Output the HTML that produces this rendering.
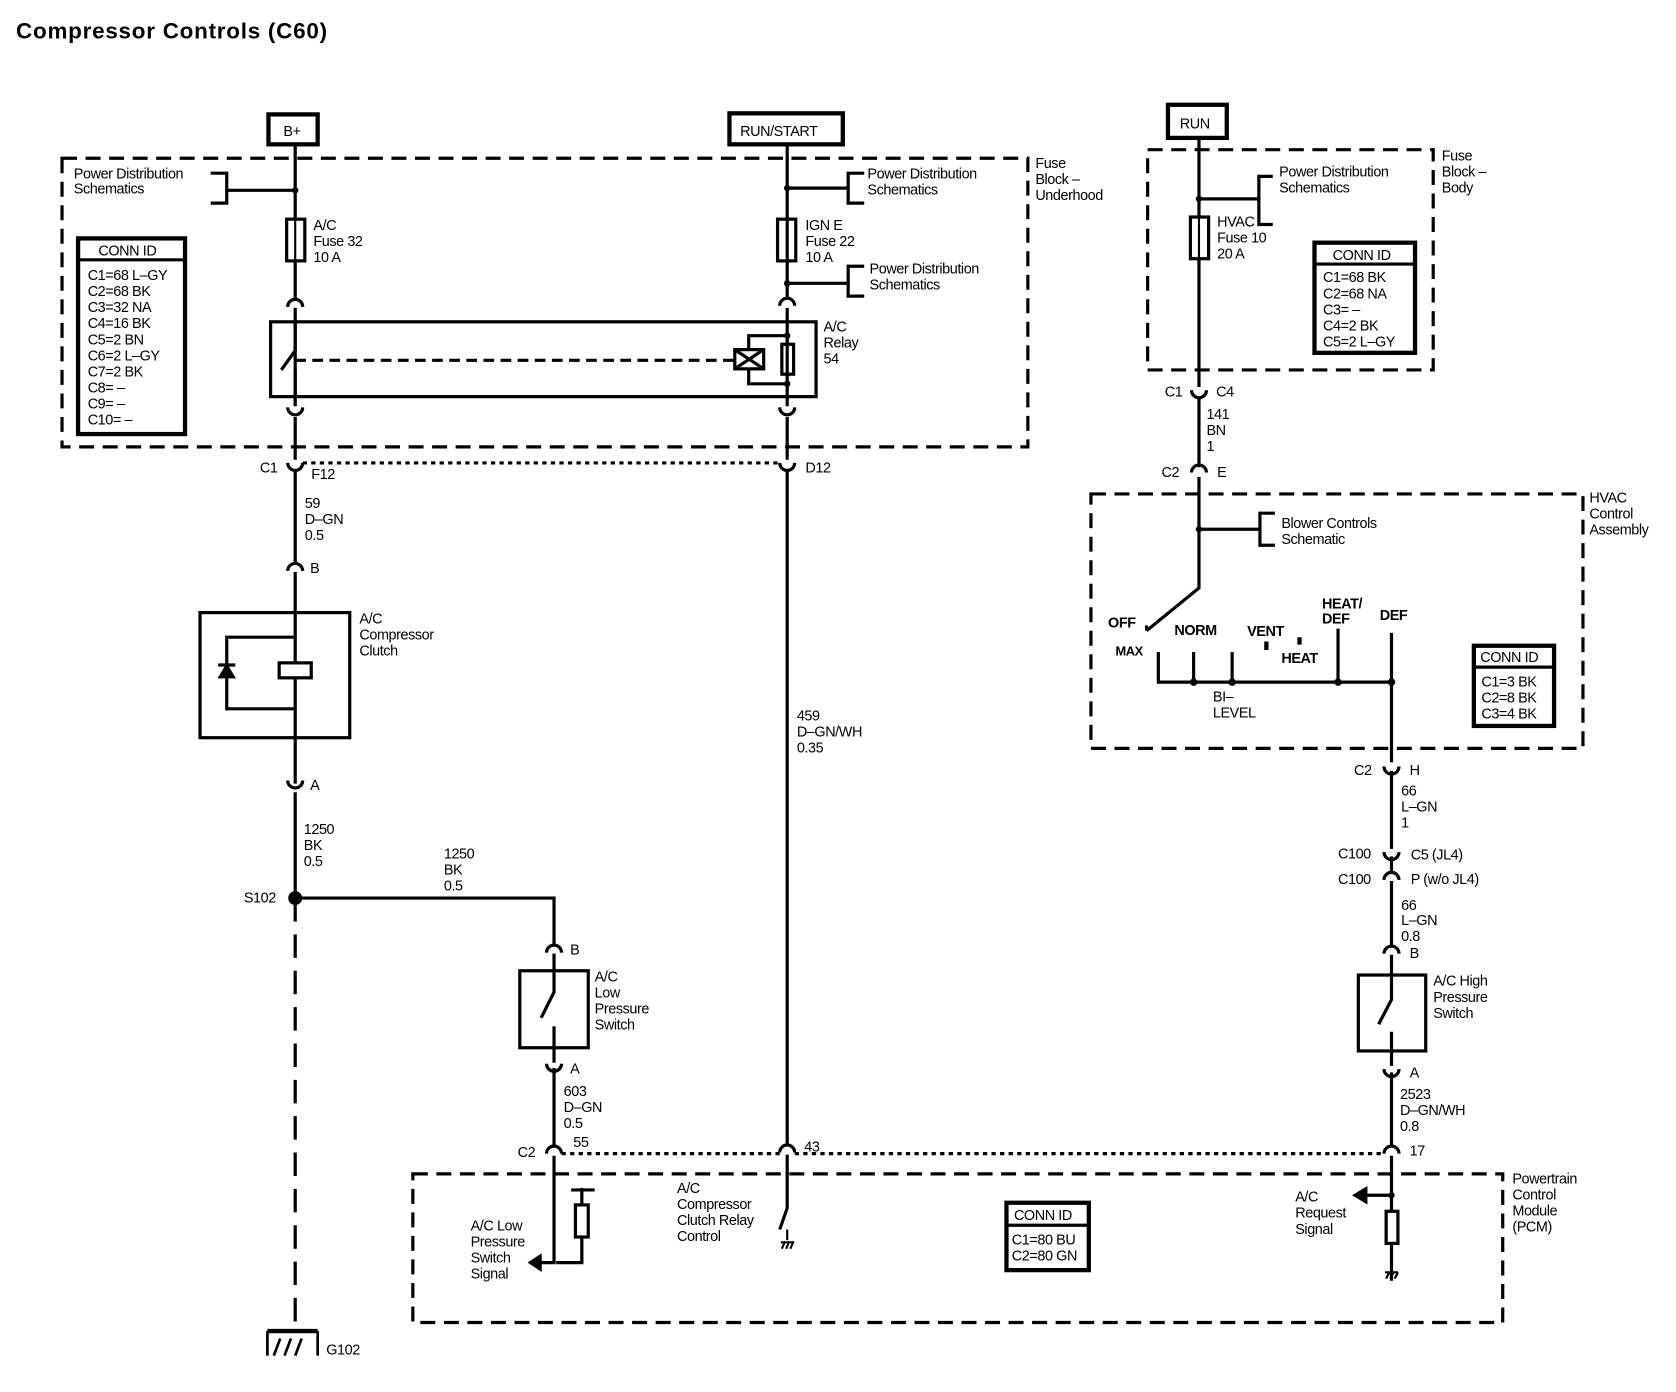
<!DOCTYPE html>
<html><head><meta charset="utf-8"><style>
html,body{margin:0;padding:0;background:#fff;}
svg{display:block}
text{font-family:"Liberation Sans",Arial,sans-serif;font-size:13.5px;fill:#000;letter-spacing:-0.4px}
.b{font-weight:bold}
</style></head><body>
<svg width="1676" height="1392" viewBox="0 0 1567 1302" preserveAspectRatio="none" xmlns="http://www.w3.org/2000/svg">
<rect width="1567" height="1302" fill="#fff"/>
<text x="15" y="36" class="b" style="font-size:21px;letter-spacing:0.7px">Compressor Controls (C60)</text>

<g fill="none" stroke="#000" stroke-width="3">
<rect x="58" y="148" width="903" height="270" stroke-dasharray="14,8"/>
<rect x="1073" y="140" width="267" height="206" stroke-dasharray="14,8"/>
<rect x="1020" y="462" width="460" height="238" stroke-dasharray="14,8"/>
<rect x="386" y="1098" width="1019" height="139" stroke-dasharray="14,8"/>
<rect x="251" y="107" width="46" height="28" stroke-width="4"/>
<rect x="682" y="106" width="106" height="29" stroke-width="4"/>
<rect x="1092" y="98" width="55" height="31" stroke-width="4"/>

<path d="M276 135 V280 M276 288 V380 M276 390 V430 M276 440 V527 M276 535 V733 M276 741 V840"/>
<path d="M276 840 V1245" stroke-dasharray="22,12"/>
<path d="M269 287 A7 7 0 0 1 283 287 M269 381 A7 7 0 0 0 283 381 M269 433 A7 7 0 0 0 283 433 M269 534 A7 7 0 0 1 283 534 M269 730 A7 7 0 0 0 283 730"/>
<path d="M276 178 H212 M197 162 H212 V190 H197"/>
<rect x="253" y="301" width="510" height="70"/>
<path d="M276 301 V328 L263 346 M276 346 V371"/>
<path d="M276 337 H687" stroke-dasharray="10,6"/>
<rect x="687" y="327" width="27" height="18"/>
<path d="M687 327 L714 345 M714 327 L687 345"/>
<path d="M700 327 V314 H736 M700 345 V359 H736"/>
<rect x="731" y="322" width="11" height="28" fill="#fff"/>
<rect x="268" y="205" width="17" height="39" fill="#fff"/>
<rect x="727" y="205" width="17" height="39" fill="#fff"/>
<path d="M276 205 V244 M736 205 V244" stroke-width="2"/>

<path d="M736 135 V280 M736 288 V380 M736 390 V430 M736 440 V1072 M736 1080 V1130 L729 1150"/>
<path d="M729 286 A7 7 0 0 1 743 286 M729 381 A7 7 0 0 0 743 381 M729 433 A7 7 0 0 0 743 433 M729 1078 A7 7 0 0 1 743 1078"/>
<path d="M736 176 H793 M808 162 H793 V190 H808 M736 265 H793 M808 249 H793 V277 H808"/>
<path d="M283 433 H729" stroke-dasharray="4,4"/>

<rect x="187" y="573" width="140" height="117"/>
<path d="M276 596 H212 V663 H276"/>
<rect x="261" y="620" width="30" height="14" fill="#fff"/>
<path d="M204 622 H220"/>
<path d="M212 623 L206 633 H218 Z" fill="#000"/>
<circle cx="276" cy="840" r="5" fill="#000"/>
<path d="M276 840 H518 V884"/>
<path d="M511 891 A7 7 0 0 1 525 891 M511 995 A7 7 0 0 0 525 995"/>
<path d="M518 892 V908 M518 980 V994"/>
<rect x="486" y="908" width="64" height="72"/>
<path d="M518 908 V928 L506 952 M518 960 V980"/>
<path d="M518 999 V1072 M518 1081 V1181 H500"/>
<path d="M511 1079 A7 7 0 0 1 525 1079"/>
<path d="M496 1181 L505 1175 V1187 Z" fill="#000"/>
<path d="M544 1113 V1157 M534 1113 H556 M544 1157 V1181 H520"/>
<rect x="538" y="1127" width="12" height="30" fill="#fff"/>
<path d="M525 1079 H729 M743 1079 H1294" stroke-dasharray="4,4"/>
<path d="M736 1150 V1160 M730 1162 H742 M731 1168 L734 1161 M735 1168 L738 1161 M739 1168 L742 1161" stroke-width="2"/>
<path d="M250 1245 H297" stroke-width="4"/>
<path d="M250 1245 V1268 M297 1245 V1268 M256 1268 L262 1252 M266 1268 L272 1252 M276 1268 L282 1252" stroke-width="2.5"/>
<rect x="941" y="1125" width="77" height="63" stroke-width="4"/>
<path d="M941 1146 H1018"/>

<path d="M1121 130 V362 M1121 371 V437 M1121 446 V550 L1072 590"/>
<path d="M1114 365 A7 7 0 0 0 1128 365 M1114 442 A7 7 0 0 1 1128 442"/>
<rect x="1113" y="203" width="17" height="39" fill="#fff"/>
<path d="M1121 203 V242" stroke-width="2"/>
<path d="M1121 186 H1177 M1190 165 H1177 V210 H1190"/>
<path d="M1121 495 H1178 M1192 480 H1178 V510 H1192"/>
<path d="M1072 590 V585"/>
<path d="M1083 610 V638 H1301 M1116 610 V638 M1152 610 V638 M1251 588 V638 M1301 592 V713 M1301 721 V794 M1301 801 V817 M1301 824 V886 M1301 893 V912 M1301 983 V997 M1301 1003 V1072 M1301 1081 V1198"/>
<path d="M1184 600 V608 M1215 596 V603" stroke-width="4"/>
<path d="M1294 717 A7 7 0 0 0 1308 717 M1294 797 A7 7 0 0 0 1308 797 M1294 823 A7 7 0 0 1 1308 823 M1294 892 A7 7 0 0 1 1308 892 M1294 1000 A7 7 0 0 0 1308 1000 M1294 1079 A7 7 0 0 1 1308 1079"/>
<rect x="1270" y="912" width="63" height="71"/>
<path d="M1301 912 V935 L1289 958 M1301 965 V983"/>
<path d="M1301 1118 H1274"/>
<path d="M1267 1118 L1277 1112 V1124 Z" fill="#000"/>
<rect x="1296" y="1133" width="11" height="30" fill="#fff"/>
<path d="M1301 1190 V1186 M1295 1190 H1307 M1296 1196 L1299 1190 M1300 1196 L1303 1190 M1304 1196 L1307 1190" stroke-width="2"/>
<rect x="73" y="223" width="100" height="183" stroke-width="4"/>
<path d="M73 243 H173"/>
<rect x="1229" y="227" width="94" height="103" stroke-width="4"/>
<path d="M1229 247 H1323"/>
<rect x="1378" y="604" width="75" height="75" stroke-width="4"/>
<path d="M1378 624 H1453"/>
</g>
<g fill="#000">
<circle cx="276" cy="178" r="3"/><circle cx="736" cy="176" r="3"/><circle cx="736" cy="265" r="3"/>
<circle cx="736" cy="314" r="3"/><circle cx="736" cy="359" r="3"/>
<circle cx="1121" cy="186" r="3"/><circle cx="1121" cy="495" r="3"/>
<circle cx="1116" cy="638" r="3.5"/><circle cx="1152" cy="638" r="3.5"/><circle cx="1251" cy="638" r="3.5"/><circle cx="1301" cy="638" r="3.5"/>
<circle cx="1301" cy="1118" r="3"/><circle cx="544" cy="1113" r="2"/>
</g>

<g>
<text x="265" y="127">B+</text>
<text x="692" y="127">RUN/START</text>
<text x="1103" y="120">RUN</text>
<text x="69" y="167">Power Distribution</text><text x="69" y="181">Schematics</text>
<text x="811" y="167">Power Distribution</text><text x="811" y="182">Schematics</text>
<text x="813" y="256">Power Distribution</text><text x="813" y="271">Schematics</text>
<text x="968" y="157">Fuse</text><text x="968" y="172">Block –</text><text x="968" y="187">Underhood</text>
<text x="293" y="215">A/C</text><text x="293" y="230">Fuse 32</text><text x="293" y="245">10 A</text>
<text x="753" y="215">IGN E</text><text x="753" y="230">Fuse 22</text><text x="753" y="245">10 A</text>
<text x="770" y="310">A/C</text><text x="770" y="325">Relay</text><text x="770" y="340">54</text>
<text x="92" y="239">CONN ID</text>
<text x="82" y="262">C1=68 L–GY</text><text x="82" y="277">C2=68 BK</text><text x="82" y="292">C3=32 NA</text><text x="82" y="307">C4=16 BK</text><text x="82" y="322">C5=2 BN</text><text x="82" y="337">C6=2 L–GY</text><text x="82" y="352">C7=2 BK</text><text x="82" y="367">C8= –</text><text x="82" y="382">C9= –</text><text x="82" y="397">C10= –</text>
<text x="243" y="442">C1</text><text x="291" y="448">F12</text><text x="753" y="442">D12</text>
<text x="285" y="475">59</text><text x="285" y="490">D–GN</text><text x="285" y="505">0.5</text>
<text x="290" y="536">B</text>
<text x="336" y="583">A/C</text><text x="336" y="598">Compressor</text><text x="336" y="613">Clutch</text>
<text x="290" y="739">A</text>
<text x="284" y="780">1250</text><text x="284" y="795">BK</text><text x="284" y="810">0.5</text>
<text x="228" y="844">S102</text>
<text x="415" y="803">1250</text><text x="415" y="818">BK</text><text x="415" y="833">0.5</text>
<text x="745" y="674">459</text><text x="745" y="689">D–GN/WH</text><text x="745" y="704">0.35</text>
<text x="533" y="893">B</text>
<text x="556" y="918">A/C</text><text x="556" y="933">Low</text><text x="556" y="948">Pressure</text><text x="556" y="963">Switch</text>
<text x="533" y="1004">A</text>
<text x="527" y="1025">603</text><text x="527" y="1040">D–GN</text><text x="527" y="1055">0.5</text>
<text x="536" y="1073">55</text><text x="484" y="1082">C2</text><text x="752" y="1077">43</text><text x="1318" y="1081">17</text>
<text x="440" y="1151">A/C Low</text><text x="440" y="1166">Pressure</text><text x="440" y="1181">Switch</text><text x="440" y="1196">Signal</text>
<text x="633" y="1116">A/C</text><text x="633" y="1131">Compressor</text><text x="633" y="1146">Clutch Relay</text><text x="633" y="1161">Control</text>
<text x="948" y="1141">CONN ID</text><text x="946" y="1164">C1=80 BU</text><text x="946" y="1179">C2=80 GN</text>
<text x="1211" y="1124">A/C</text><text x="1211" y="1139">Request</text><text x="1211" y="1154">Signal</text>
<text x="1414" y="1107">Powertrain</text><text x="1414" y="1122">Control</text><text x="1414" y="1137">Module</text><text x="1414" y="1152">(PCM)</text>
<text x="305" y="1267">G102</text>
<text x="1348" y="150">Fuse</text><text x="1348" y="165">Block –</text><text x="1348" y="180">Body</text>
<text x="1196" y="165">Power Distribution</text><text x="1196" y="180">Schematics</text>
<text x="1138" y="212">HVAC</text><text x="1138" y="227">Fuse 10</text><text x="1138" y="242">20 A</text>
<text x="1246" y="243">CONN ID</text>
<text x="1237" y="264">C1=68 BK</text><text x="1237" y="279">C2=68 NA</text><text x="1237" y="294">C3= –</text><text x="1237" y="309">C4=2 BK</text><text x="1237" y="324">C5=2 L–GY</text>
<text x="1089" y="371">C1</text><text x="1137" y="371">C4</text>
<text x="1128" y="392">141</text><text x="1128" y="407">BN</text><text x="1128" y="422">1</text>
<text x="1086" y="446">C2</text><text x="1138" y="446">E</text>
<text x="1486" y="470">HVAC</text><text x="1486" y="485">Control</text><text x="1486" y="500">Assembly</text>
<text x="1198" y="494">Blower Controls</text><text x="1198" y="509">Schematic</text>
<text x="1036" y="587" class="b">OFF</text><text x="1043" y="613" class="b" style="font-size:12px">MAX</text>
<text x="1098" y="594" class="b">NORM</text><text x="1166" y="595" class="b">VENT</text><text x="1198" y="620" class="b">HEAT</text>
<text x="1236" y="569" class="b">HEAT/</text><text x="1236" y="583" class="b">DEF</text><text x="1290" y="580" class="b">DEF</text>
<text x="1134" y="656">BI–</text><text x="1134" y="671">LEVEL</text>
<text x="1384" y="619">CONN ID</text>
<text x="1385" y="642">C1=3 BK</text><text x="1385" y="657">C2=8 BK</text><text x="1385" y="672">C3=4 BK</text>
<text x="1266" y="725">C2</text><text x="1318" y="725">H</text>
<text x="1310" y="744">66</text><text x="1310" y="759">L–GN</text><text x="1310" y="774">1</text>
<text x="1251" y="803">C100</text><text x="1319" y="804">C5 (JL4)</text>
<text x="1251" y="827">C100</text><text x="1319" y="827">P (w/o JL4)</text>
<text x="1310" y="851">66</text><text x="1310" y="865">L–GN</text><text x="1310" y="880">0.8</text>
<text x="1318" y="896">B</text>
<text x="1340" y="922">A/C High</text><text x="1340" y="937">Pressure</text><text x="1340" y="952">Switch</text>
<text x="1318" y="1008">A</text>
<text x="1309" y="1028">2523</text><text x="1309" y="1043">D–GN/WH</text><text x="1309" y="1058">0.8</text>
</g>
</svg>
</body></html>
